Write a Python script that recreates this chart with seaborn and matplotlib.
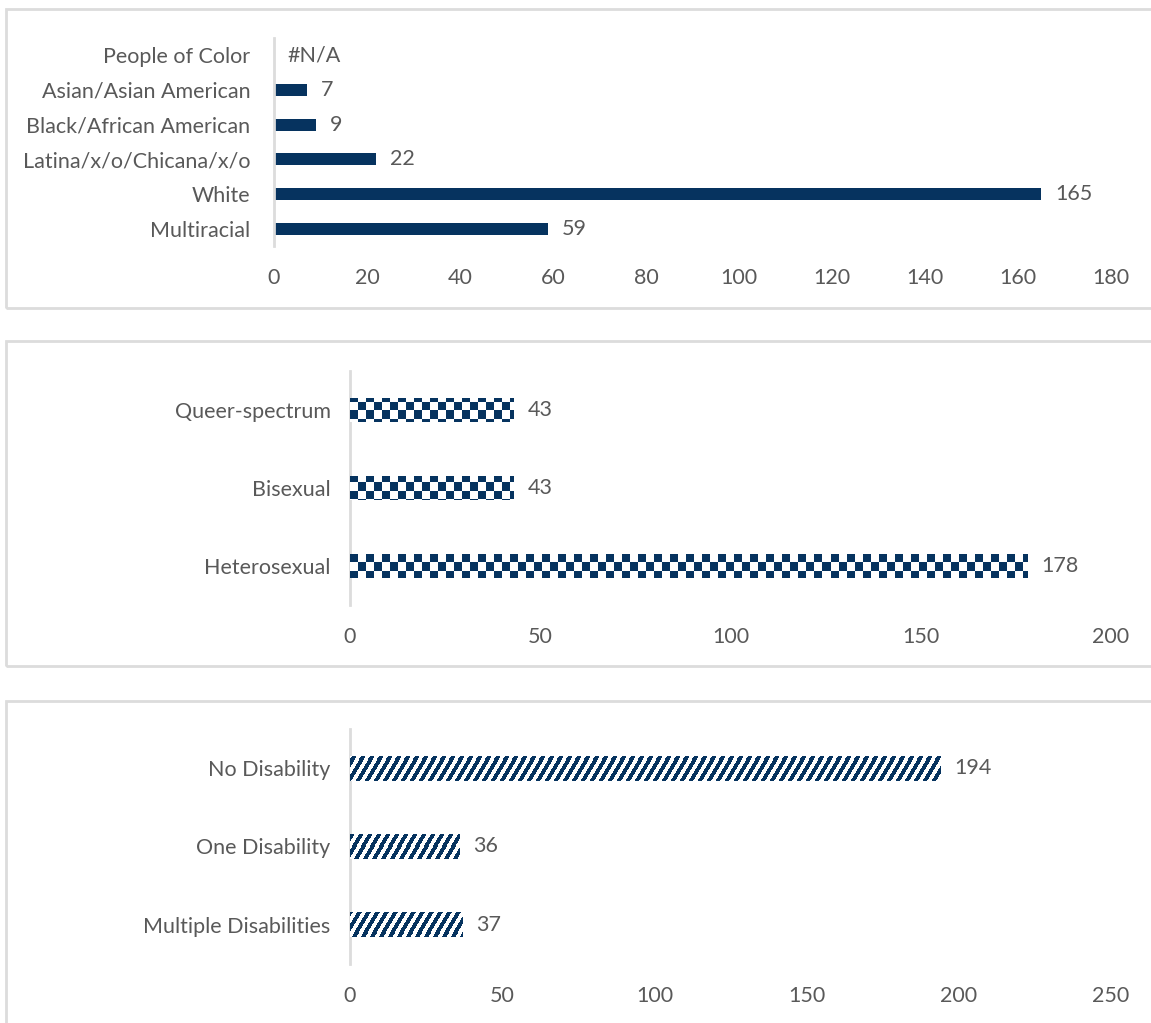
import numpy as np
import pandas as pd
import matplotlib
matplotlib.use("Agg")
import matplotlib.pyplot as plt
from matplotlib.patches import Rectangle
from matplotlib.colors import ListedColormap
import seaborn as sns

# data
race_labels = ["People of Color", "Asian/Asian American", "Black/African American",
               "Latina/x/o/Chicana/x/o", "White", "Multiracial"]
race_counts = [np.nan, 7, 9, 22, 165, 59]

orient_labels = ["Queer-spectrum", "Bisexual", "Heterosexual"]
orient_counts = [43, 43, 178]

disab_labels = ["No Disability", "One Disability", "Multiple Disabilities"]
disab_counts = [194, 36, 37]

NAVY = "#06335f"
TEXT = "#595959"
GRID = "#dcdcdc"

sns.set_theme(style="white")
plt.rcParams["font.family"] = ["Lato", "DejaVu Sans"]
FS = 15.5

fig = plt.figure(figsize=(11.51, 10.23), dpi=100)
W, H = 1151, 1023


def px_axes(left, top, right, bottom):
    return fig.add_axes([left / W, 1 - bottom / H, (right - left) / W, (bottom - top) / H])


def panel_box(left, top, bottom):
    r = Rectangle((left / W, 1 - bottom / H), (W + 20 - left) / W, (bottom - top) / H,
                  transform=fig.transFigure, fill=False, edgecolor=GRID, lw=2, zorder=0)
    fig.add_artist(r)


def texture(ax, kind):
    bb = ax.get_window_extent()
    w, h = int(round(bb.width)), int(round(bb.height))
    yy, xx = np.mgrid[0:h, 0:w]
    if kind == "checker":
        tex = ((xx // 8 + yy // 8) % 2).astype(float)
    else:
        tex = (((xx + yy * 0.6) % 9) < 4.5).astype(float)
    return tex


def fill_pattern(ax, kind):
    tex = texture(ax, kind)
    cmap = ListedColormap(["white", NAVY])
    for p in ax.patches:
        im = ax.imshow(tex, extent=(0, 1, 0, 1), transform=ax.transAxes, cmap=cmap,
                       vmin=0, vmax=1, interpolation="nearest", aspect="auto",
                       origin="upper", zorder=3)
        im.set_clip_path(p)


def style_axes(ax, labels, values, xmax, step, ypad, width_pad=10):
    ax.set_xlim(0, xmax)
    ax.set_ylim(len(labels) - 0.5, -0.5)
    ax.set_xticks(np.arange(0, xmax + 1, step))
    ax.set_xlabel("")
    ax.set_ylabel("")
    for s in ["top", "right", "bottom"]:
        ax.spines[s].set_visible(False)
    ax.spines["left"].set_color(GRID)
    ax.spines["left"].set_linewidth(2)
    ax.tick_params(axis="x", length=0, labelsize=FS, labelcolor=TEXT, pad=16)
    ax.tick_params(axis="y", length=0, labelsize=FS, labelcolor=TEXT, pad=ypad)
    ax.set_facecolor("none")
    for i, v in enumerate(values):
        txt = "#N/A" if np.isnan(v) else f"{int(v)}"
        ax.annotate(txt, xy=(0 if np.isnan(v) else v, i), xytext=(width_pad, 0),
                    textcoords="offset points", va="center", ha="left",
                    fontsize=FS, color=TEXT)


# panel 1: race
panel_box(6, 9, 308)
ax1 = px_axes(274, 38, 1111, 246)
df1 = pd.DataFrame({"group": race_labels, "count": race_counts})
sns.barplot(data=df1, y="group", x="count", order=race_labels, color=NAVY,
            width=0.34, ax=ax1, saturation=1, linewidth=0)
style_axes(ax1, race_labels, race_counts, 180, 20, 17)

# panel 2: sexual orientation
panel_box(6, 341, 666)
ax2 = px_axes(350, 371, 1111, 605)
df2 = pd.DataFrame({"group": orient_labels, "count": orient_counts})
sns.barplot(data=df2, y="group", x="count", order=orient_labels, color="white",
            width=0.32, ax=ax2, saturation=1, linewidth=0)
style_axes(ax2, orient_labels, orient_counts, 200, 50, 14)
fill_pattern(ax2, "checker")
ax2.set_xlim(0, 200)
ax2.set_ylim(len(orient_labels) - 0.5, -0.5)

# panel 3: disability
panel_box(6, 701, 1040)
ax3 = px_axes(350, 729, 1111, 964)
df3 = pd.DataFrame({"group": disab_labels, "count": disab_counts})
sns.barplot(data=df3, y="group", x="count", order=disab_labels, color="white",
            width=0.32, ax=ax3, saturation=1, linewidth=0)
style_axes(ax3, disab_labels, disab_counts, 250, 50, 14)
fill_pattern(ax3, "stripes")
ax3.set_xlim(0, 250)
ax3.set_ylim(len(disab_labels) - 0.5, -0.5)

fig.savefig("out.png", dpi=100, facecolor="white")
